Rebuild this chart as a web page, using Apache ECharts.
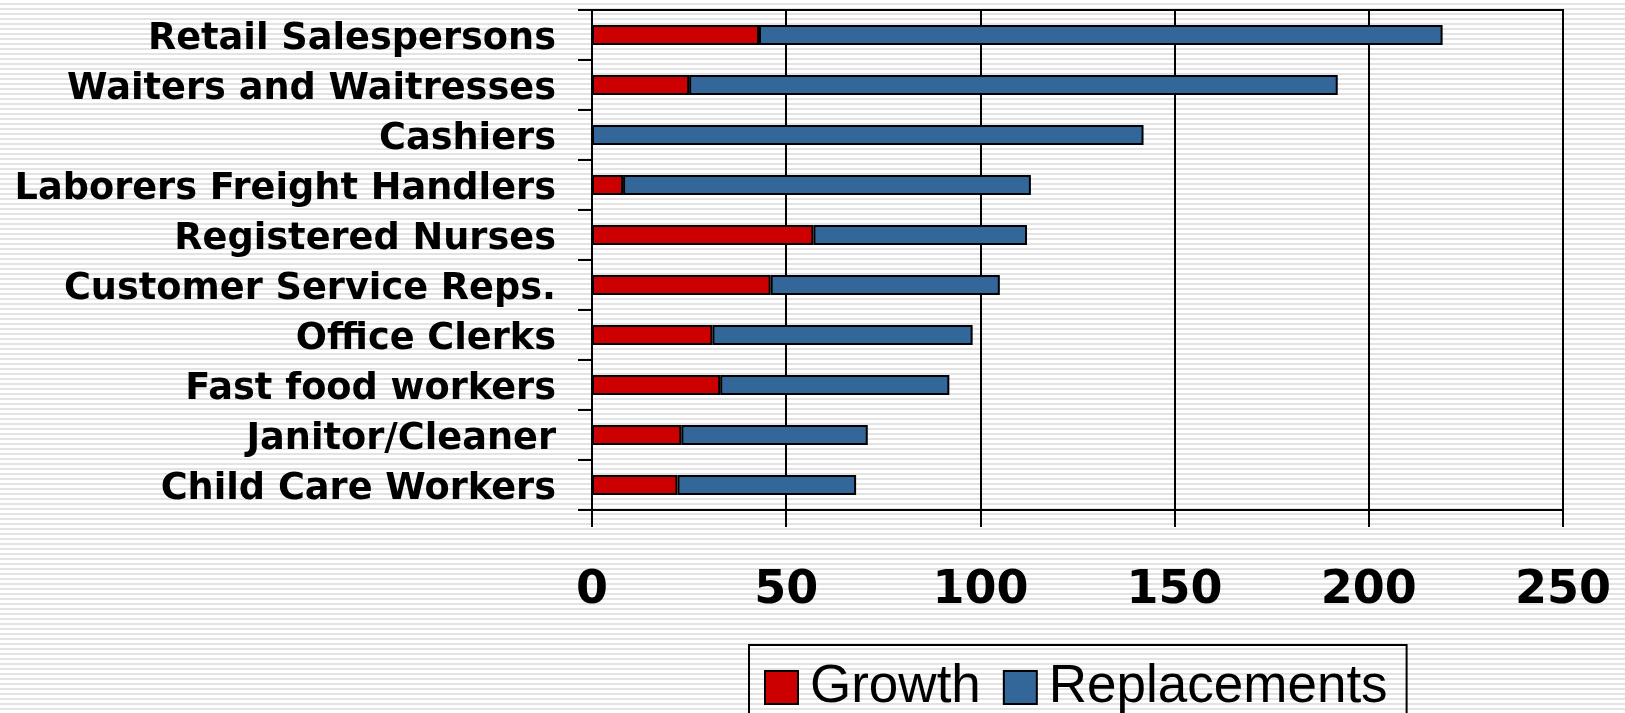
<!DOCTYPE html>
<html>
<head>
<meta charset="utf-8">
<script src="https://cdn.jsdelivr.net/npm/echarts@6/dist/echarts.min.js"></script>
<style>
    html, body {
        margin: 0;
        padding: 0;
        width: 1625px;
        height: 713px;
        overflow: hidden;
        /* striped slide background */
        background: repeating-linear-gradient(to bottom, #ffffff 0px, #ffffff 3px, #e3e3e3 3px, #e3e3e3 5px);
    }
    #chart {
        width: 1625px;
        height: 713px;
    }
</style>
</head>
<body>
<div id="chart"></div>
<script>
// 数据
var categories = ['Retail Salespersons', 'Waiters and Waitresses', 'Cashiers', 'Laborers Freight Handlers',
    'Registered Nurses', 'Customer Service Reps.', 'Office Clerks', 'Fast food workers',
    'Janitor/Cleaner', 'Child Care Workers'];
var growth = [43, 25, 0, 8, 57, 46, 31, 33, 23, 22];
var replacements = [176, 167, 142, 105, 55, 59, 67, 59, 48, 46];
var xTicks = [0, 50, 100, 150, 200, 250];

var chart = echarts.init(document.getElementById('chart'));

var option = {
    backgroundColor: 'transparent',
    animation: false,
    grid: {
        left: 592,
        top: 10,
        right: 62,
        bottom: 203,
        show: true,
        borderColor: '#000',
        borderWidth: 2,
        backgroundColor: 'transparent'
    },
    legend: {
        left: 749,
        top: 645,
        orient: 'horizontal',
        icon: 'rect',
        itemWidth: 33,
        itemHeight: 33,
        itemGap: 22,
        padding: [16, 19, 45, 15],
        borderColor: '#000',
        borderWidth: 2,
        textStyle: {
            fontFamily: 'Liberation Sans',
            fontSize: 53,
            color: '#000',
            padding: [0, 0, 0, 7]
        },
        data: ['Growth', 'Replacements']
    },
    xAxis: {
        type: 'value',
        min: xTicks[0],
        max: xTicks[xTicks.length - 1],
        interval: xTicks[1] - xTicks[0],
        axisLine: { show: true, lineStyle: { color: '#000', width: 2 } },
        axisTick: { show: true, length: 17, lineStyle: { color: '#000', width: 2 } },
        splitLine: { show: true, lineStyle: { color: '#000', width: 2 } },
        axisLabel: {
            fontFamily: 'DejaVu Sans',
            fontWeight: 'bold',
            fontSize: 46,
            color: '#000',
            margin: 81,
            verticalAlign: 'middle'
        }
    },
    yAxis: {
        type: 'category',
        inverse: true,
        data: categories,
        axisLine: { show: true, lineStyle: { color: '#000', width: 2 } },
        axisTick: { show: true, length: 14, lineStyle: { color: '#000', width: 2 } },
        axisLabel: {
            color: '#000',
            margin: 36,
            formatter: '{a|{value}}',
            rich: {
                a: {
                    fontFamily: 'DejaVu Sans',
                    fontWeight: 'bold',
                    fontSize: 36.7,
                    color: '#000',
                    padding: [9, 0, 0, 0]
                }
            }
        }
    },
    series: [{
        name: 'Growth',
        type: 'bar',
        stack: 'total',
        barWidth: 20,
        data: growth,
        itemStyle: { color: '#cc0000', borderColor: '#000', borderWidth: 2 }
    }, {
        name: 'Replacements',
        type: 'bar',
        stack: 'total',
        barWidth: 20,
        data: replacements,
        itemStyle: { color: '#336699', borderColor: '#000', borderWidth: 2 }
    }]
};

chart.setOption(option);
</script>
</body>
</html>
